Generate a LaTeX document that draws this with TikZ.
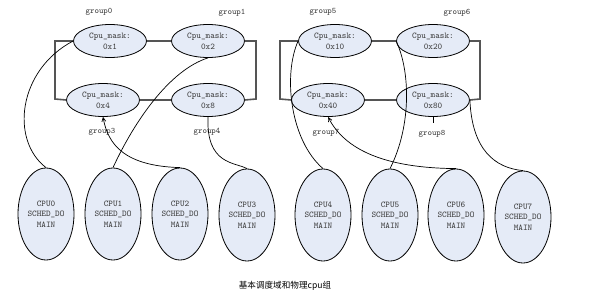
\documentclass[tikz,border=0pt]{standalone}
\usepackage{fontspec}
\usetikzlibrary{shapes.geometric,arrows.meta}
\newfontfamily\cjkf{Noto Sans CJK SC}
\definecolor{efill}{RGB}{229,235,247}
\definecolor{rectc}{RGB}{85,85,85}
\definecolor{txtc}{RGB}{60,60,60}
\tikzset{
  maskbox/.style={ellipse,draw=black,line width=0.8pt,fill=efill,minimum width=73pt,minimum height=33pt,inner sep=0pt,font=\ttfamily\fontsize{8.8}{11}\selectfont,text=txtc,align=center},
  cpubox/.style={ellipse,draw=black,line width=0.8pt,fill=efill,minimum width=56pt,minimum height=92pt,inner sep=0pt,font=\ttfamily\fontsize{8.8}{10.5}\selectfont,text=txtc,align=center},
  grp/.style={font=\ttfamily\fontsize{8.4}{9}\selectfont,text=txtc,inner sep=0pt},
  frame/.style={draw=rectc,line width=1.6pt},
  link/.style={draw=black,line width=0.7pt},
  arr/.style={link,-{Straight Barb[length=4pt,width=4pt]}}
}
\begin{document}
\begin{tikzpicture}[x=1pt,y=-1pt]
\useasboundingbox (0,0) rectangle (605,299);
\coordinate (l1) at (55,41); \coordinate (l2) at (55,99);
\coordinate (r1) at (256,41); \coordinate (r2) at (256,99);
\coordinate (l3) at (280,41); \coordinate (l4) at (280,99);
\coordinate (r3) at (480,41); \coordinate (r4) at (480,99);
\node[maskbox] (m1) at (110,41) {Cpu\_mask:\\0x1};
\node[maskbox] (m2) at (208,41) {Cpu\_mask:\\0x2};
\node[maskbox] (m4) at (103,100) {Cpu\_mask:\\0x4};
\node[maskbox] (m8) at (208,100) {Cpu\_mask:\\0x8};
\node[maskbox] (m10) at (335,41) {Cpu\_mask:\\0x10};
\node[maskbox] (m20) at (433,41) {Cpu\_mask:\\0x20};
\node[maskbox] (m40) at (328,100) {Cpu\_mask:\\0x40};
\node[maskbox] (m80) at (433,100) {Cpu\_mask:\\0x80};
\draw[frame] (m1.west) -- (l1) -- (l2) -- (m4.west);
\draw[frame] (m1.east) -- (m2.west);
\draw[frame] (m2.east) -- (r1) -- (r2) -- (m8.east);
\draw[frame] (m4.east) -- (m8.west);
\draw[frame] (m10.west) -- (l3) -- (l4) -- (m40.west);
\draw[frame] (m10.east) -- (m20.west);
\draw[frame] (m20.east) -- (r3) -- (r4) -- (m80.east);
\draw[frame] (m40.east) -- (m80.west);
\node[cpubox] (c0) at (46,214) {CPU0\\SCHED\_DO\\MAIN};
\node[cpubox] (c1) at (113,214) {CPU1\\SCHED\_DO\\MAIN};
\node[cpubox] (c2) at (180,214) {CPU2\\SCHED\_DO\\MAIN};
\node[cpubox] (c3) at (247,215) {CPU3\\SCHED\_DO\\MAIN};
\node[cpubox] (c4) at (323,215) {CPU4\\SCHED\_DO\\MAIN};
\node[cpubox] (c5) at (390,215) {CPU5\\SCHED\_DO\\MAIN};
\node[cpubox] (c6) at (456,215) {CPU6\\SCHED\_DO\\MAIN};
\node[cpubox] (c7) at (523,217) {CPU7\\SCHED\_DO\\MAIN};
\node[grp] (g0) at (99,12) {group0};
\node[grp] (g1) at (232,13) {group1};
\node[grp] (g3) at (102,132) {group3};
\node[grp] (g4) at (207,132) {group4};
\node[grp] (g5) at (323,12) {group5};
\node[grp] (g6) at (457,13) {group6};
\node[grp] (g7) at (326,133) {group7};
\node[grp] (g8) at (432,134) {group8};
\draw[link] (c0.north) .. controls (10,140) and (18,70) .. (m1.west);
\draw[link] (c1.north) .. controls (135,120) and (170,70) .. (m2.south);
\draw[arr] (c2.north) .. controls (125,166) and (108,145) .. (m4.south);
\draw[link] (m8.south) .. controls (206,165) and (235,162) .. (c3.north);
\draw[link] (c4.north) .. controls (290,140) and (283,75) .. (m10.west);
\draw[link] (c5.north) .. controls (412,125) and (410,70) .. (m20.west);
\draw[arr] (c6.north) .. controls (385,168) and (345,150) .. (m40.south);
\draw[link] (m80.east) .. controls (472,150) and (495,168) .. (c7.north);
\coordinate (tk) at (433,123);
\draw[line width=0.6pt] (m80.south) -- (tk);
\node[font=\cjkf\fontsize{8.6}{10}\selectfont,inner sep=0pt] (cap) at (285,286) {基本调度域和物理cpu组};
\end{tikzpicture}
\end{document}
